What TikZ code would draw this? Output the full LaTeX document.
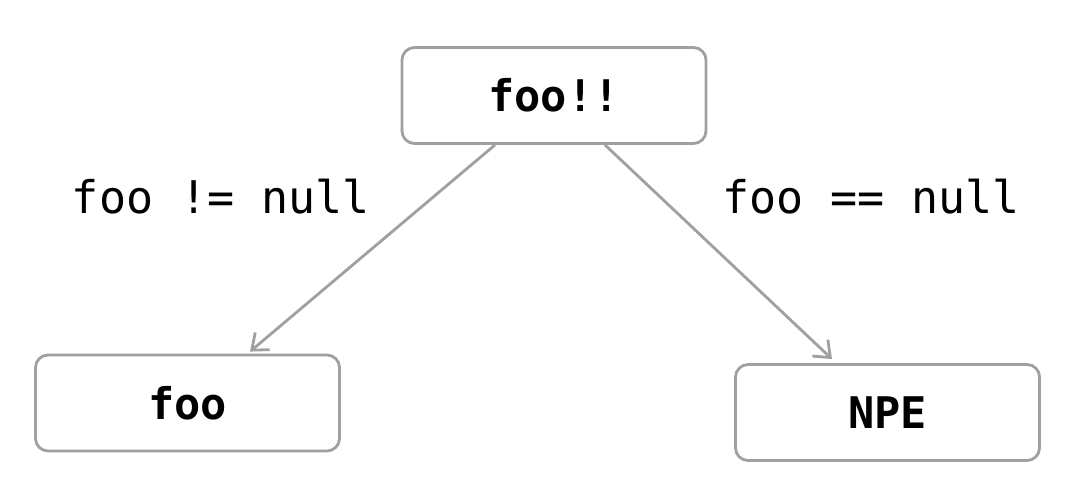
\documentclass[tikz,border=0pt]{standalone}
\usepackage{fontspec}
\setmonofont{DejaVu Sans Mono}
\usetikzlibrary{arrows.meta,calc}
\definecolor{edgegray}{RGB}{160,160,160}
\tikzset{
    valbox/.style={draw=edgegray, line width=2pt, rounded corners=9pt, fill=white,
        minimum width=7.6cm, minimum height=2.4cm, font=\ttfamily\bfseries\fontsize{31}{36}\selectfont},
    branch/.style={draw=edgegray, line width=2pt, -{Straight Barb[length=10pt,width=16pt,line width=2pt]}},
    cond/.style={font=\ttfamily\fontsize{32}{38}\selectfont}
}
\begin{document}
\begin{tikzpicture}[x=0.025cm, y=-0.025cm]
        \useasboundingbox (0,0) rectangle (1084,478);
        \node[valbox] (bang) at (554,95.5) {foo!!};
        \node[valbox] (val) at (187.5,403) {foo};
        \node[valbox] (npe) at (887.5,412.5) {NPE};
        \node[cond] (nonnull) at (221,197) {foo != null};
        \node[cond] (isnull) at (871,197) {foo == null};
        \draw[branch] ($(bang.south)+(-59,0)$) -- ($(val.north)+(62.5,-2)$);
        \draw[branch] ($(bang.south)+(51,0)$) -- ($(npe.north)+(-55.5,-4)$);
    \end{tikzpicture}
\end{document}
